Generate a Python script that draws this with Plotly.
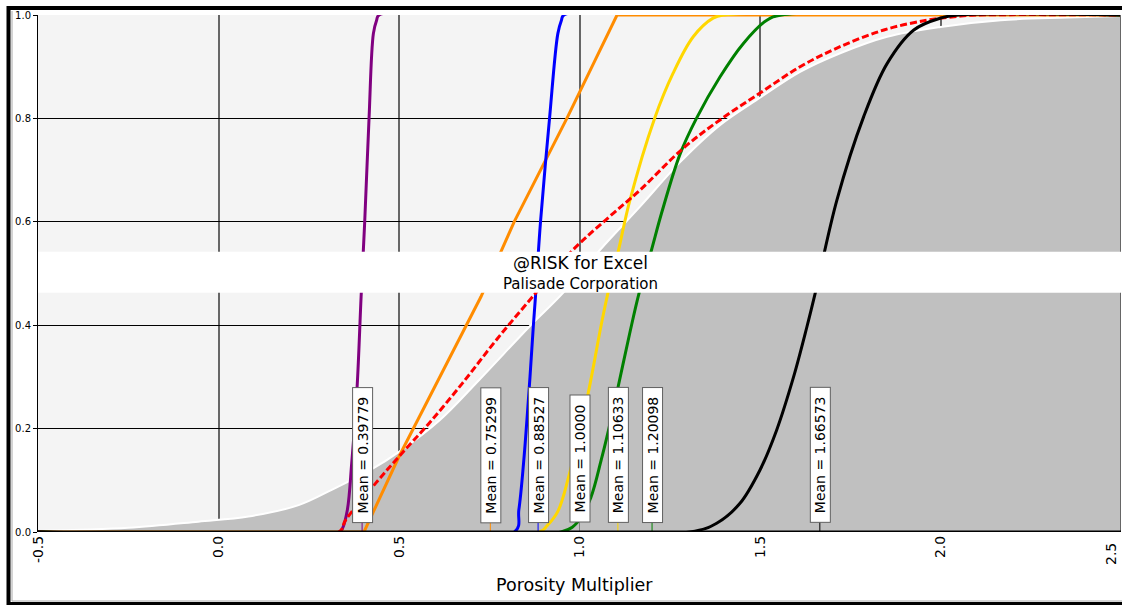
import plotly.graph_objects as go

# ---------------- data ----------------
grey_x = [-0.5, -0.25, -0.056, 0.083, 0.222, 0.315, 0.426, 0.5, 0.611, 0.722, 0.861, 0.954, 1.056, 1.167,
          1.278, 1.389, 1.5, 1.611, 1.722, 1.852, 2.0, 2.167, 2.352, 2.5]
grey_y = [0.002, 0.008, 0.020, 0.030, 0.052, 0.082, 0.122, 0.155, 0.215, 0.294, 0.397, 0.462,
          0.545, 0.629, 0.715, 0.787, 0.840, 0.890, 0.926, 0.958, 0.977, 0.990, 0.995, 0.998]

purple_x = [-0.5, 0.336, 0.343, 0.357, 0.369, 0.384, 0.395, 0.405, 0.417, 0.429, 0.438, 0.445, 2.5]
purple_y = [0, 0, 0.006, 0.043, 0.133, 0.281, 0.455, 0.60, 0.80, 0.964, 0.99, 1.0, 1.0]

orange_x = [-0.5, 0.403, 0.5, 0.727, 0.819, 0.965, 1.104, 2.5]
orange_y = [0, 0, 0.146, 0.455, 0.60, 0.80, 1.0, 1.0]

blue_x = [-0.5, 0.82, 0.832, 0.845, 0.861, 0.872, 0.878, 0.892, 0.917, 0.940, 0.950, 0.957, 2.5]
blue_y = [0, 0, 0.043, 0.133, 0.281, 0.397, 0.455, 0.60, 0.80, 0.964, 0.99, 1.0, 1.0]

yellow_x = [-0.5, 0.889, 0.91, 0.94, 0.970, 1.023, 1.060, 1.079, 1.107, 1.139, 1.208, 1.259,
            1.315, 1.370, 1.40, 2.5]
yellow_y = [0, 0, 0.012, 0.04, 0.107, 0.265, 0.40, 0.463, 0.542, 0.64, 0.800, 0.887,
            0.958, 0.994, 1.0, 1.0]

green_x = [-0.5, 0.949, 1.0, 1.032, 1.060, 1.076, 1.107, 1.139, 1.165, 1.198, 1.227, 1.278,
           1.324, 1.389, 1.454, 1.519, 1.56, 2.5]
green_y = [0, 0, 0.023, 0.068, 0.139, 0.184, 0.281, 0.384, 0.462, 0.542, 0.616, 0.730,
           0.800, 0.880, 0.945, 0.990, 1.0, 1.0]

black_x = [-0.5, 1.306, 1.380, 1.444, 1.5, 1.546, 1.593, 1.630, 1.653, 1.713, 1.787, 1.852,
           1.926, 2.0, 2.05, 2.5]
black_y = [0, 0, 0.017, 0.055, 0.12, 0.197, 0.300, 0.397, 0.462, 0.642, 0.803, 0.906,
           0.971, 0.994, 1.0, 1.0]

red_x = [-0.5, 0.333, 0.352, 0.435, 0.5, 0.583, 0.676, 0.769, 0.870, 0.981, 1.083, 1.167,
         1.287, 1.389, 1.5, 1.611, 1.713, 1.843, 1.963, 2.056, 2.1, 2.5]
red_y = [0, 0, 0.023, 0.094, 0.146, 0.210, 0.288, 0.371, 0.455, 0.545, 0.610, 0.661,
         0.742, 0.797, 0.849, 0.900, 0.936, 0.971, 0.990, 0.998, 1.0, 1.0]

mean_values = [0.39779, 0.75299, 0.88527, 1.0000, 1.10633, 1.20098, 1.66573]
mean_texts = ["Mean = 0.39779", "Mean = 0.75299", "Mean = 0.88527", "Mean = 1.0000",
              "Mean = 1.10633", "Mean = 1.20098", "Mean = 1.66573"]
mean_colors = ["#800080", "#ff8c00", "#0000ff", "#808080", "#ffd700", "#008000", "#000000"]

x_ticks = [-0.5, 0.0, 0.5, 1.0, 1.5, 2.0, 2.5]
x_tick_labels = ["-0.5", "0.0", "0.5", "1.0", "1.5", "2.0", "2.5"]
y_ticks = [0.0, 0.2, 0.4, 0.6, 0.8, 1.0]
y_tick_labels = ["0.0", "0.2", "0.4", "0.6", "0.8", "1.0"]

x_title = "Porosity Multiplier"
watermark1 = "@RISK for Excel"
watermark2 = "Palisade Corporation"

# ---------------- layout geometry ----------------
W, H = 1122, 605
ML, MR, MT, MB = 38, 1, 15, 73
PW = W - ML - MR
PH = H - MT - MB
FONT = "DejaVu Sans"


def px2paper_x(px):
    return (px - ML) / PW


def px2paper_y(py):
    return (H - MB - py) / PH


fig = go.Figure()

# grey distribution fill
fig.add_trace(go.Scatter(x=grey_x, y=grey_y, mode="lines", fill="tozeroy",
                         fillcolor="#c0c0c0",
                         line=dict(color="white", width=2, shape="spline", smoothing=1.0),
                         hoverinfo="skip", showlegend=False))

curves = [
    (purple_x, purple_y, "#800080", "solid", "spline"),
    (orange_x, orange_y, "#ff8c00", "solid", "linear"),
    (blue_x, blue_y, "#0000ff", "solid", "spline"),
    (yellow_x, yellow_y, "#ffd700", "solid", "spline"),
    (green_x, green_y, "#008000", "solid", "spline"),
    (red_x, red_y, "#ff0000", "7px,3px", "spline"),
    (black_x, black_y, "#000000", "solid", "spline"),
]
for cx, cy, col, dash, shp in curves:
    line = dict(color=col, width=3, dash=dash, shape=shp)
    if shp == "spline":
        line["smoothing"] = 1.0
    fig.add_trace(go.Scatter(x=cx, y=cy, mode="lines", line=line,
                             hoverinfo="skip", showlegend=False))

shapes = []
annotations = []

# mean markers
for mv, mt, mc in zip(mean_values, mean_texts, mean_colors):
    shapes.append(dict(type="line", xref="x", yref="y", x0=mv, x1=mv, y0=0, y1=0.02,
                       line=dict(color=mc, width=1)))
    short = mt.endswith("1.0000")
    annotations.append(dict(x=mv, y=0, xref="x", yref="y", text=mt, textangle=-90,
                            showarrow=False, yanchor="bottom", xanchor="center", yshift=9,
                            font=dict(family=FONT, size=14, color="black"),
                            bgcolor="white", bordercolor="#606060", borderwidth=1, borderpad=2,
                            width=122 if short else 130, height=15, align="center"))

# last x tick label, kept inside the page at the right edge
annotations.append(dict(x=2.5, y=0, xref="x", yref="y", text=x_tick_labels[-1], textangle=-90,
                        showarrow=False, xanchor="right", yanchor="top", yshift=-9,
                        font=dict(family=FONT, size=14, color="black")))
shapes.append(dict(type="line", xref="x", yref="paper", x0=2.5, x1=2.5, y0=0, y1=1,
                   line=dict(color="#666666", width=2)))

# watermark band
shapes.append(dict(type="rect", xref="paper", yref="y", x0=0, x1=1, y0=0.4629, y1=0.5422,
                   fillcolor="white", line=dict(width=0), layer="above"))
annotations.append(dict(x=px2paper_x(580.5), y=px2paper_y(262.7), xref="paper", yref="paper",
                        text=watermark1, showarrow=False, xanchor="center", yanchor="middle",
                        font=dict(family=FONT, size=17, color="black")))
annotations.append(dict(x=px2paper_x(580), y=px2paper_y(284.3), xref="paper", yref="paper",
                        text=watermark2, showarrow=False, xanchor="center", yanchor="middle",
                        font=dict(family=FONT, size=15, color="black")))

# axis title
annotations.append(dict(x=px2paper_x(574), y=px2paper_y(585), xref="paper", yref="paper",
                        text=x_title, showarrow=False, xanchor="center", yanchor="middle",
                        font=dict(family=FONT, size=17.5, color="black")))

# outer frame (black) + thin grey inner line
fl, ft, fb, fr = px2paper_x(8.5), px2paper_y(8), px2paper_y(604), px2paper_x(1123)
shapes.append(dict(type="path", xref="paper", yref="paper",
                   path=f"M {fr} {ft} L {fl} {ft} L {fl} {fb} L {fr} {fb}",
                   line=dict(color="black", width=4), layer="above"))
gl, gb = px2paper_x(12), px2paper_y(601)
shapes.append(dict(type="path", xref="paper", yref="paper",
                   path=f"M {gl} {px2paper_y(11)} L {gl} {gb} L {fr} {gb}",
                   line=dict(color="#a8a8a8", width=1), layer="above"))
# bottom axis line
shapes.append(dict(type="line", xref="paper", yref="y", x0=0, x1=1, y0=0, y1=0,
                   line=dict(color="black", width=3), layer="above"))

fig.update_layout(
    width=W, height=H,
    margin=dict(l=ML, r=MR, t=MT, b=MB, pad=0),
    paper_bgcolor="white", plot_bgcolor="#f4f4f4",
    showlegend=False,
    shapes=shapes, annotations=annotations,
    xaxis=dict(range=[-0.5, 2.5], tickvals=x_ticks, ticktext=x_tick_labels, tickangle=-90,
               tickfont=dict(family=FONT, size=14, color="black"),
               showgrid=True, gridcolor="#666666", gridwidth=1.5, zeroline=False,
               showline=False, ticks="", fixedrange=True),
    yaxis=dict(range=[0, 1], tickvals=y_ticks, ticktext=y_tick_labels,
               tickfont=dict(family=FONT, size=10, color="black"),
               showgrid=True, gridcolor="black", gridwidth=1, zeroline=False,
               showline=True, linecolor="black", linewidth=1,
               ticks="outside", ticklen=4, tickcolor="black", fixedrange=True),
)

fig.write_html("out.html")
